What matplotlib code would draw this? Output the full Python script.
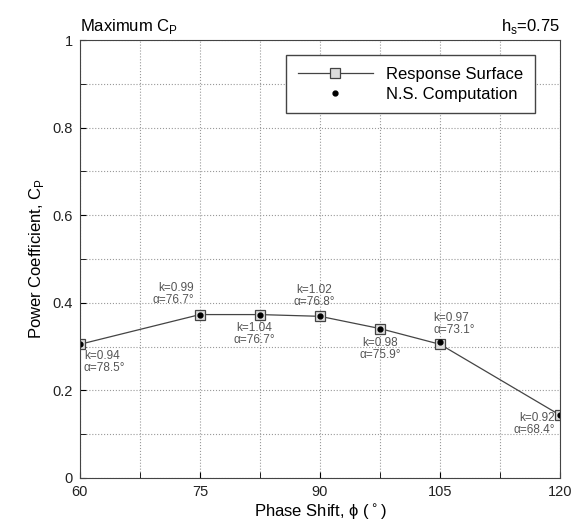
import matplotlib
matplotlib.use("Agg")
import matplotlib.pyplot as plt

plt.rcParams["font.family"] = ["Liberation Sans", "DejaVu Sans"]

# ----------------------------
# Data
# ----------------------------
phase = [60, 75, 82.5, 90, 97.5, 105, 120]
cp_rs = [0.305, 0.373, 0.373, 0.369, 0.341, 0.305, 0.143]
cp_ns = [0.305, 0.373, 0.373, 0.369, 0.341, 0.310, 0.143]
k_vals = ["0.94", "0.99", "1.04", "1.02", "0.98", "0.97", "0.92"]
alpha_vals = ["78.5", "76.7", "76.7", "76.8", "75.9", "73.1", "68.4"]

# label offsets in points (dx, dy, ha, va)
offsets = [
    (3, -4, "left", "top"),
    (-4, 6, "right", "bottom"),
    (-4, -5, "center", "top"),
    (-4, 6, "center", "bottom"),
    (0, -6, "center", "top"),
    (-5, 6, "left", "bottom"),
    (-4, 2, "right", "top"),
]

fig = plt.figure(figsize=(5.74, 5.28), dpi=100)
ax = fig.add_axes([0.139, 0.095, 0.837, 0.829])

ax.plot(phase, cp_rs, color="#444444", lw=0.9, marker="s", ms=6.5,
        mfc="#dddddd", mec="#444444", mew=0.9, label="Response Surface")
ax.plot(phase, cp_ns, ls="none", marker="o", ms=3.5, color="black",
        label="N.S. Computation")

for x, y, k, a, (dx, dy, ha, va) in zip(phase, cp_rs, k_vals, alpha_vals, offsets):
    ax.annotate(f"k={k}\n\u03b1={a}\u00b0", (x, y), xytext=(dx, dy),
                textcoords="offset points", ha=ha, va=va, fontsize=8.5,
                color="#555555", linespacing=1.0)

ax.set_xlim(60, 120)
ax.set_ylim(0, 1)
ax.set_xticks([60, 75, 90, 105, 120])
ax.set_xticks([67.5, 82.5, 97.5, 112.5], minor=True)
ax.set_yticks([0, 0.2, 0.4, 0.6, 0.8, 1])
ax.set_yticklabels(["0", "0.2", "0.4", "0.6", "0.8", "1"])
ax.set_yticks([0.1, 0.3, 0.5, 0.7, 0.9], minor=True)
ax.grid(True, which="both", ls=":", color="#999999", lw=0.8)
ax.tick_params(which="both", direction="in", length=4, labelsize=10.5,
               labelcolor="#222222")
ax.tick_params(axis="x", pad=5)
ax.tick_params(axis="y", pad=5)
for s in ax.spines.values():
    s.set_color("#444444")

ax.set_xlabel("Phase Shift, \u03d5 ($^\\circ$)", fontsize=12, labelpad=2)
ax.set_ylabel("Power Coefficient, C$_\\mathregular{P}$", fontsize=12, labelpad=5)
ax.text(0.0, 1.01, "Maximum C$_\\mathregular{P}$", transform=ax.transAxes,
        fontsize=12, ha="left", va="bottom")
ax.text(1.0, 1.01, "h$_\\mathregular{s}$=0.75", transform=ax.transAxes,
        fontsize=12, ha="right", va="bottom")

leg = ax.legend(loc="upper right", bbox_to_anchor=(0.965, 0.985), fontsize=12,
                fancybox=False, framealpha=1, edgecolor="#444444",
                handlelength=4.5, borderpad=0.7, labelspacing=0.3)
leg.get_frame().set_linewidth(1.0)

fig.savefig("out.png", dpi=100)
